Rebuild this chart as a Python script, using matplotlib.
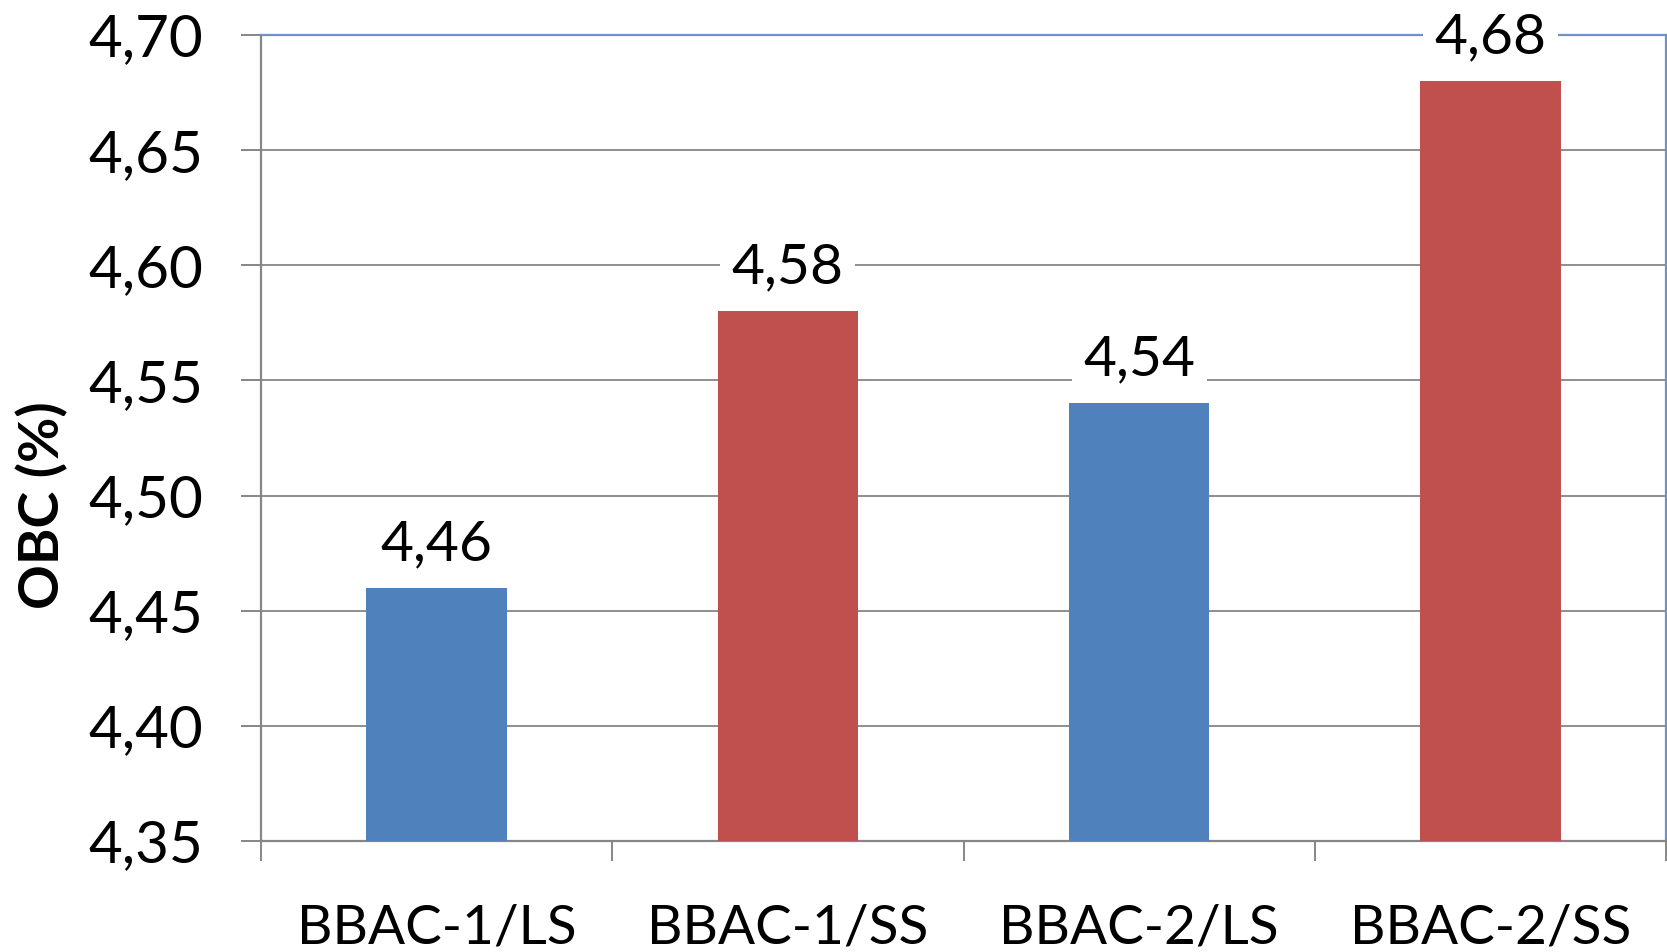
import matplotlib
matplotlib.use("Agg")
import matplotlib.pyplot as plt
from matplotlib.ticker import FixedLocator, FuncFormatter

plt.rcParams['font.family'] = ['Lato', 'DejaVu Sans']

categories = ["BBAC-1/LS", "BBAC-1/SS", "BBAC-2/LS", "BBAC-2/SS"]
obc_values = [4.46, 4.58, 4.54, 4.68]
bar_colors = ["#4F81BD", "#C0504D", "#4F81BD", "#C0504D"]
y_ticks = [4.35, 4.40, 4.45, 4.50, 4.55, 4.60, 4.65, 4.70]

W, H = 1667, 952
fig = plt.figure(figsize=(W / 100, H / 100), dpi=100)
ax = fig.add_axes([261 / W, 1 - 841 / H, (1666 - 261) / W, (841 - 35) / H])

grid_color = "#868686"
x = list(range(len(categories)))
ax.bar(x, [v - y_ticks[0] for v in obc_values], bottom=y_ticks[0],
       width=0.4, color=bar_colors, zorder=3)

ax.set_xlim(-0.5, len(categories) - 0.5)
ax.set_ylim(y_ticks[0], y_ticks[-1])

ax.yaxis.set_major_locator(FixedLocator(y_ticks))
ax.yaxis.set_major_formatter(FuncFormatter(lambda v, p: f"{v:.2f}".replace(".", ",")))
ax.yaxis.grid(True, color=grid_color, linewidth=1.3, zorder=0)
ax.set_axisbelow(True)

# category boundaries carry the tick marks, labels sit in the middle
ax.set_xticks([i - 0.5 for i in range(len(categories) + 1)])
ax.set_xticklabels([])
ax.set_xticks(x, minor=True)
ax.set_xticklabels(categories, minor=True)
ax.tick_params(axis="x", which="major", direction="out", length=14.4,
               width=1.4, color=grid_color)
ax.tick_params(axis="x", which="minor", length=0, pad=45, labelsize=39.5)
ax.tick_params(axis="y", direction="out", length=14.4, width=1.4,
               color=grid_color, pad=27, labelsize=42)

for side in ("left", "bottom"):
    ax.spines[side].set_color(grid_color)
    ax.spines[side].set_linewidth(1.6)
for side in ("top", "right"):
    ax.spines[side].set_color("#6F92C6")
    ax.spines[side].set_linewidth(1.6)

ax.set_ylabel("OBC (%)", fontsize=40, fontweight="bold", va="center", ha="center")
ax.yaxis.set_label_coords(-0.156, 0.417)

for xi, v in zip(x, obc_values):
    ax.annotate(f"{v:.2f}".replace(".", ","), xy=(xi, v), xytext=(0, 20),
                textcoords="offset points", ha="center", va="baseline",
                fontsize=41, color="black", annotation_clip=False, zorder=10,
                bbox=dict(boxstyle="square,pad=0.2", facecolor="white",
                          edgecolor="none"))

fig.savefig("out.png", dpi=100, facecolor="white")
